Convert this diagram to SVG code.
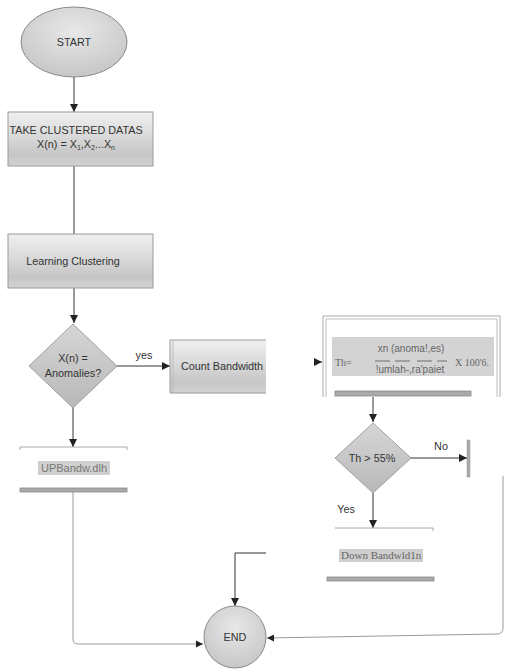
<svg xmlns="http://www.w3.org/2000/svg" width="507" height="670" viewBox="0 0 507 670">
<style>
.t{font-family:"Liberation Sans",Arial,sans-serif;font-size:10.8px;fill:#333;text-anchor:middle}
.s{font-family:"Liberation Serif","Times New Roman",serif;font-size:10px;fill:#666}
.box{fill:url(#gb);stroke:#9a9a9a;stroke-width:1}
.ln{fill:none;stroke:#333;stroke-width:1}
.gl{fill:none;stroke:#999;stroke-width:1}
.bar{fill:#a9a9a9;stroke:#8a8a8a;stroke-width:0.8}
</style>
<defs>
<linearGradient id="gb" x1="0" y1="0" x2="0" y2="1">
<stop offset="0" stop-color="#f0f0f0"/>
<stop offset="0.45" stop-color="#d9d9d9"/>
<stop offset="0.8" stop-color="#c6c6c6"/>
<stop offset="1" stop-color="#d2d2d2"/>
</linearGradient>
<radialGradient id="ge" cx="0.5" cy="0.35" r="0.7">
<stop offset="0" stop-color="#e8e8e8"/>
<stop offset="1" stop-color="#c4c4c4"/>
</radialGradient>
<linearGradient id="gd" x1="0" y1="0" x2="0" y2="1">
<stop offset="0" stop-color="#d6d6d6"/>
<stop offset="1" stop-color="#b8b8b8"/>
</linearGradient>
<marker id="ar" viewBox="0 0 10 10" refX="10" refY="5" markerWidth="8" markerHeight="8" markerUnits="userSpaceOnUse" orient="auto">
<path d="M0,0 L10,5 L0,10 z" fill="#222"/>
</marker>
</defs>

<g id="connectors">
<line class="ln" x1="74" y1="77" x2="74" y2="112" marker-end="url(#ar)"/>
<line class="ln" x1="74" y1="166" x2="74" y2="234"/>
<line class="ln" x1="74" y1="288" x2="74" y2="323" marker-end="url(#ar)"/>
<line class="ln" x1="117" y1="366" x2="170" y2="366" marker-end="url(#ar)"/>
<text class="t" x="144" y="359">yes</text>
<line class="ln" x1="73" y1="408" x2="73" y2="447" marker-end="url(#ar)"/>
<path class="gl" d="M73,491 V639 Q73,644 78,644 H203" stroke="#666"/>
<path d="M196,640.5 L203,644 L196,647.5 z" fill="#222"/>
<path class="ln" d="M266,553 H235 V606" marker-end="url(#ar)"/>
<line class="ln" x1="314" y1="362" x2="322" y2="362" marker-end="url(#ar)"/>
<line class="ln" x1="373" y1="397" x2="373" y2="422" marker-end="url(#ar)"/>
<line class="ln" x1="410" y1="458" x2="467" y2="458" marker-end="url(#ar)"/>
<text class="t" x="441" y="450">No</text>
<line class="ln" x1="373" y1="493" x2="373" y2="528" marker-end="url(#ar)"/>
<text class="t" x="346" y="513">Yes</text>
<path class="gl" d="M503,476 V628 Q503,634 497,634 L267,638" stroke="#888"/>
<path d="M274,634.5 L267,638 L274,641.5 z" fill="#222"/>
</g>

<g id="start">
<ellipse cx="74" cy="42" rx="53" ry="35" fill="url(#ge)" stroke="#8a8a8a"/>
<text class="t" x="74" y="46">START</text>
</g>

<g id="take">
<rect class="box" x="8" y="112" width="145" height="54"/>
<text class="t" x="76" y="134">TAKE CLUSTERED DATAS</text>
<text class="t" x="76" y="148">X(n) = X<tspan font-size="7" dy="2">1</tspan><tspan dy="-2">,X</tspan><tspan font-size="7" dy="2">2</tspan><tspan dy="-2">...X</tspan><tspan font-size="7" dy="2">n</tspan></text>
</g>

<g id="learn">
<rect class="box" x="8" y="234" width="145" height="54"/>
<text class="t" x="73" y="265">Learning Clustering</text>
</g>

<g id="decision1">
<polygon points="73,324 117,366 73,408 29,366" fill="url(#gd)" stroke="#a0a0a0"/>
<text class="t" x="73" y="362">X(n) =</text>
<text class="t" x="73" y="377">Anomalies?</text>
</g>

<g id="count">
<rect x="170" y="340" width="96" height="53" fill="url(#gb)"/>
<path d="M266,340 H170 V393 H266" fill="none" stroke="#9a9a9a"/>
<line x1="173" y1="341" x2="173" y2="392" stroke="#bbb"/>
<text class="t" x="222" y="370">Count Bandwidth</text>
</g>

<g id="upbandwidth">
<path d="M20,450 V447 H127 V450" fill="none" stroke="#aaa"/>
<rect x="38" y="461" width="72" height="14" fill="#d0d0d0"/>
<text class="t" x="74" y="472" style="fill:#777;font-size:11px">UPBandw.dlh</text>
<rect class="bar" x="20" y="488" width="107" height="4"/>
</g>

<g id="formula">
<path d="M323,397 V316 H500 V397" fill="none" stroke="#aaa" stroke-width="1"/>
<path d="M326,397 V319 H497 V397" fill="none" stroke="#bbb" stroke-width="1"/>
<rect x="332" y="337" width="162" height="39" fill="#d3d3d3"/>
<text class="s" x="335" y="366">Th=</text>
<text class="t" x="411" y="352" style="fill:#666;font-size:10px">xn (anoma!,es)</text>
<g stroke="#555" stroke-width="0.8">
<line x1="375" y1="361" x2="390" y2="361"/>
<line x1="395" y1="361" x2="410" y2="361"/>
<line x1="417" y1="361" x2="432" y2="361"/>
<line x1="437" y1="361" x2="447" y2="361"/>
</g>
<text class="t" x="410" y="373" style="fill:#666;font-size:10px">!umlah-,ra'paiet</text>
<text class="s" x="455" y="366">X 100'6.</text>
<rect class="bar" x="335" y="391" width="136" height="5"/>
</g>

<g id="decision2">
<polygon points="373,423 411,458 373,493 335,458" fill="url(#gd)" stroke="#a0a0a0"/>
<text class="t" x="372" y="462">Th &gt; 55%</text>
</g>

<g id="nobar">
<rect x="467" y="440" width="3" height="37" fill="#aaa" stroke="#999" stroke-width="0.5"/>
</g>

<g id="downbandwidth">
<path d="M335,528 H433 V531" fill="none" stroke="#aaa"/>
<rect x="339" y="549" width="84" height="13" fill="#cfcfcf"/>
<text class="s" x="341" y="559" style="font-size:11px">Down Bandwld1n</text>
<rect class="bar" x="327" y="577" width="107" height="4"/>
</g>

<g id="end">
<circle cx="235" cy="637" r="31" fill="url(#ge)" stroke="#8a8a8a"/>
<text class="t" x="235" y="641">END</text>
</g>
</svg>
